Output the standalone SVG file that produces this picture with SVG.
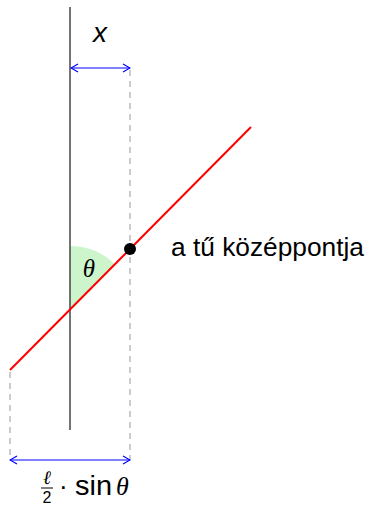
<svg xmlns="http://www.w3.org/2000/svg" width="369" height="507" viewBox="0 0 369 507">
<style>
.dash{stroke:#999;stroke-width:1;stroke-dasharray:6,5;fill:none}
.dim{stroke:#0000ff;stroke-width:1;fill:none}
.t{font-family:"Liberation Sans",Arial,sans-serif;fill:#000}
.m{font-family:"Liberation Serif","DejaVu Serif",serif;font-style:italic;fill:#000}
</style>
<defs>
<marker id="ah" viewBox="0 0 10 10" refX="9" refY="5" markerWidth="10" markerHeight="10" orient="auto-start-reverse" markerUnits="userSpaceOnUse">
<path d="M2,1 L9,5 L2,9" fill="none" stroke="#0000ff" stroke-width="1.2"/>
</marker>
</defs>
<g id="angle">
<path d="M70,310 L70,246 A64,64 0 0 1 115.3,264.7 Z" fill="#ccf5cc"/>
</g>
<g id="axis">
<line x1="70" y1="7" x2="70" y2="430" stroke="#444" stroke-width="1.5"/>
</g>
<g id="connectors">
<line class="dash" x1="130" y1="70" x2="130" y2="460"/>
<line class="dash" x1="10" y1="372" x2="10" y2="460"/>
<line class="dim" x1="71" y1="68" x2="130" y2="68" marker-start="url(#ah)" marker-end="url(#ah)"/>
<line class="dim" x1="10" y1="460" x2="130" y2="460" marker-start="url(#ah)" marker-end="url(#ah)"/>
</g>
<g id="needle">
<line x1="10" y1="370" x2="251" y2="127" stroke="#ff0000" stroke-width="2"/>
<circle cx="130" cy="249" r="6" fill="#000"/>
</g>
<g id="labels">
<text class="t" x="100" y="42" font-size="28" font-style="italic" text-anchor="middle">x</text>
<text class="m" x="89" y="277" font-size="25" text-anchor="middle">θ</text>
<text class="t" x="171" y="256" font-size="25" textLength="193" lengthAdjust="spacingAndGlyphs">a tű középpontja</text>
<text class="m" x="47" y="484" font-size="19" text-anchor="middle">ℓ</text>
<line x1="41" y1="488" x2="53" y2="488" stroke="#000" stroke-width="1"/>
<text class="t" x="47" y="503" font-size="16" text-anchor="middle">2</text>
<text class="t" x="59" y="495" font-size="26">·</text>
<text class="t" x="75" y="495" font-size="28" textLength="37" lengthAdjust="spacingAndGlyphs">sin</text>
<text class="m" x="116" y="495" font-size="26">θ</text>
</g>
</svg>
